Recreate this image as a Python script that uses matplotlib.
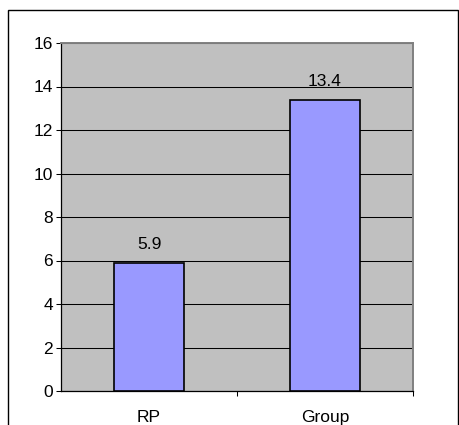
import numpy as np
import matplotlib
matplotlib.use('Agg')
import matplotlib.pyplot as plt
from matplotlib.patches import Rectangle

categories = ['RP', 'Group']
values = [5.9, 13.4]
yticks = [0, 2, 4, 6, 8, 10, 12, 14, 16]

plt.rcParams['font.family'] = ['Liberation Sans', 'DejaVu Sans']
FS = 12.5

fig = plt.figure(figsize=(4.59, 4.25), dpi=100)
fig.patch.set_facecolor('white')

# outer chart frame (bottom runs off the image)
fig.patches.append(Rectangle((8 / 459, -0.2), 450 / 459, 1.2 - 10 / 425,
                             transform=fig.transFigure, fill=False,
                             edgecolor='black', linewidth=1.0))

ax = fig.add_axes([61 / 459, 1 - 391 / 425, 352 / 459, 348 / 425])
ax.set_facecolor('#C0C0C0')

x = np.arange(len(categories))
ax.set_axisbelow(True)
ax.yaxis.grid(True, color='black', linewidth=0.75)
ax.bar(x, values, width=0.4, color='#9999FF', edgecolor='black', linewidth=1.2, zorder=3)

for xi, v in zip(x, values):
    ax.annotate(f'{v}', (xi, v), xytext=(0, 9.5), textcoords='offset points',
                ha='center', va='baseline', fontsize=FS)

ax.set_xlim(-0.5, len(categories) - 0.5)
ax.set_ylim(0, 16)
ax.set_yticks(yticks)
ax.set_xticks(x)
ax.set_xticklabels(categories, fontsize=FS)
ax.set_xticks([0.5, 1.5], minor=True)
ax.tick_params(axis='x', which='major', length=0, pad=13.5)
ax.tick_params(axis='x', which='minor', length=3.6, width=0.75, color='black', direction='out')
ax.tick_params(axis='y', length=3.6, width=0.75, pad=2.2, labelsize=FS, direction='out')

for s in ['top', 'right']:
    ax.spines[s].set_color('#808080')
    ax.spines[s].set_linewidth(1.4)
for s in ['left', 'bottom']:
    ax.spines[s].set_color('black')
    ax.spines[s].set_linewidth(0.9)

fig.savefig('out.png', dpi=100)
